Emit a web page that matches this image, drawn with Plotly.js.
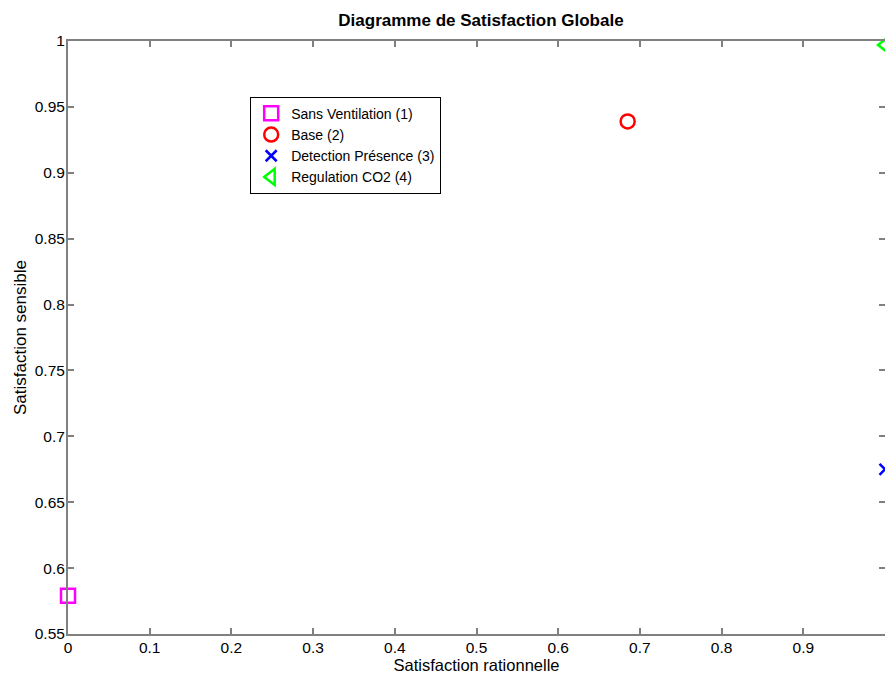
<!DOCTYPE html>
<html><head><meta charset="utf-8">
<script src="https://cdn.plot.ly/plotly-3.0.1.min.js"></script>
<style>body{margin:0;background:#fff}#c{width:885px;height:675px}</style>
</head><body><div id="c"></div>
<script>
const names = ["Sans Ventilation (1)", "Base (2)", "Detection Présence (3)", "Regulation CO2 (4)"];
const rationnelle = [0, 0.685, 1, 1];
const sensible = [0.579, 0.939, 0.675, 0.997];
const colors = ["#ff00ff", "#ff0000", "#0000ff", "#00ff00"];
const symbols = ["square-open", "circle-open", "x-thin-open", "triangle-left-open"];

const FONT = "Liberation Sans, Arial, sans-serif";
const traces = names.map((n, i) => ({
  type: "scatter", mode: "markers", name: n,
  x: [rationnelle[i]], y: [sensible[i]],
  cliponaxis: false,
  marker: {symbol: symbols[i], color: colors[i], size: i === 2 ? 11 : 14,
           line: {color: colors[i], width: 2.5}}
}));

const axisCommon = {
  showgrid: false, zeroline: false, showline: true, linecolor: "#808080", linewidth: 2,
  mirror: "ticks", ticks: "inside", ticklen: 6, tickcolor: "#808080", tickwidth: 2,
  tickfont: {family: FONT, size: 15.5, color: "#000"}
};

Plotly.newPlot("c", traces, {
  width: 885, height: 675,
  margin: {l: 68, r: 0, t: 41, b: 41},
  paper_bgcolor: "#fff", plot_bgcolor: "#fff",
  title: {text: "<b>Diagramme de Satisfaction Globale</b>", x: 0.5435, xanchor: "center", y: 0.97, yanchor: "middle",
          font: {family: FONT, size: 17, color: "#000"}},
  xaxis: Object.assign({}, axisCommon, {range: [0, 1], dtick: 0.1, tickformat: "~g", ticklabelstandoff: -2,
    title: {text: "Satisfaction rationnelle", standoff: 2, font: {family: FONT, size: 16.5, color: "#000"}}}),
  yaxis: Object.assign({}, axisCommon, {range: [0.55, 1], dtick: 0.05, tickformat: "~g", ticklabelstandoff: -2,
    title: {text: "Satisfaction sensible", standoff: 4, font: {family: FONT, size: 17, color: "#000"}}}),
  legend: {x: 0.223, y: 0.906, xanchor: "left", yanchor: "top", bgcolor: "#fff",
    bordercolor: "#000", borderwidth: 1, tracegroupgap: 0, itemwidth: 30,
    font: {family: FONT, size: 14, color: "#000"}},
  showlegend: true
}, {displayModeBar: false, staticPlot: true});
</script></body></html>
